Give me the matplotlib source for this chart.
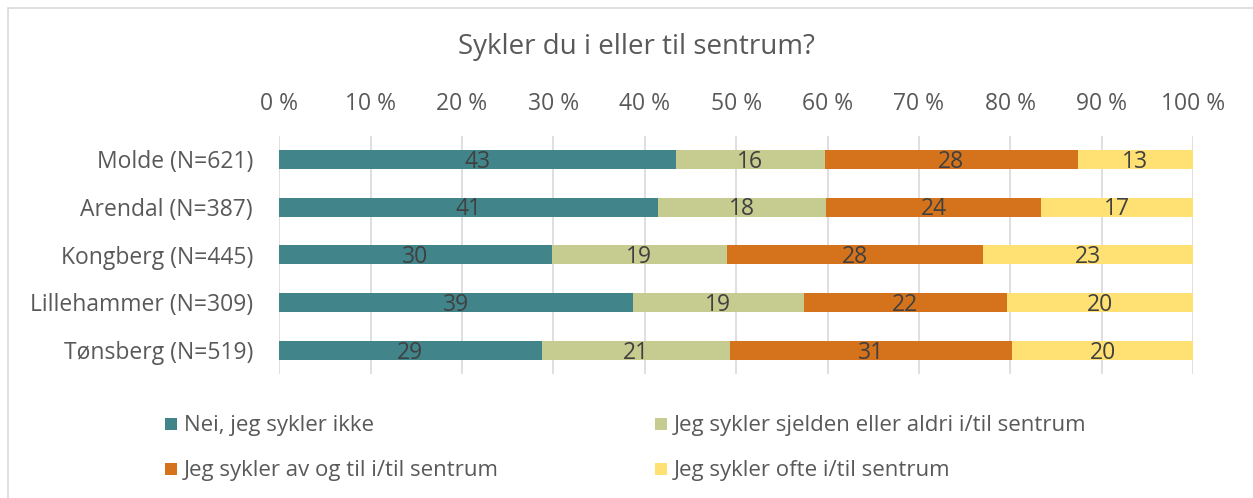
import matplotlib.pyplot as plt
from matplotlib.patches import Rectangle

plt.rcParams['font.family'] = ['Open Sans', 'DejaVu Sans']

# Survey data (percent of respondents per town)
towns = ["Molde (N=621)", "Arendal (N=387)", "Kongberg (N=445)",
         "Lillehammer (N=309)", "Tønsberg (N=519)"]
series_names = ["Nei, jeg sykler ikke",
                "Jeg sykler sjelden eller aldri i/til sentrum",
                "Jeg sykler av og til i/til sentrum",
                "Jeg sykler ofte i/til sentrum"]
nei = [43.4, 41.4, 29.8, 38.7, 28.7]
sjelden = [16.3, 18.4, 19.2, 18.7, 20.6]
av_og_til = [27.7, 23.6, 28.0, 22.2, 30.9]
ofte = [12.6, 16.6, 23.0, 20.4, 19.8]
x_ticks = [0, 10, 20, 30, 40, 50, 60, 70, 80, 90, 100]
title = "Sykler du i eller til sentrum?"

colors = ["#41858A", "#C6CC90", "#D5731C", "#FFE073"]
text_grey = "#595959"
label_grey = "#404040"

W, H = 1253, 498
fig = plt.figure(figsize=(W / 100, H / 100), dpi=100)

# Outer chart border
fig.patches.append(Rectangle((8 / W, -0.1), 1.2, (H - 8) / H + 0.1,
                             transform=fig.transFigure, fill=False,
                             edgecolor="#D9D9D9", linewidth=1.2))

left, right = 279.3, 1193.0
top, bottom = 135.5, 374.0
ax = fig.add_axes([left / W, 1 - bottom / H, (right - left) / W, (bottom - top) / H])

series = [nei, sjelden, av_og_til, ofte]
y = list(range(len(towns)))
starts = [0.0] * len(towns)
for vals, name, col in zip(series, series_names, colors):
    ax.barh(y, vals, left=starts, height=0.4, color=col, label=name, zorder=2)
    for yi, s, v in zip(y, starts, vals):
        ax.text(s + v / 2, yi + 0.05, f"{v:.0f}", ha="center", va="center",
                fontsize=16.5, color=label_grey, zorder=3)
    starts = [s + v for s, v in zip(starts, vals)]

ax.set_xlim(0, 100)
ax.set_ylim(len(towns) - 0.5, -0.5)
ax.set_xticks(x_ticks)
ax.set_xticklabels([f"{t} %" for t in x_ticks])
ax.xaxis.tick_top()
ax.tick_params(axis="x", length=0, pad=14, labelsize=16.5, labelcolor=text_grey)
ax.set_yticks(y)
ax.set_yticklabels(towns)
ax.tick_params(axis="y", length=0, pad=19, labelsize=16.5, labelcolor=text_grey)
ax.grid(axis="x", color="#D9D9D9", linewidth=1.2, zorder=0)
for sp in ax.spines.values():
    sp.set_visible(False)

fig.text(636 / W, 1 - 47 / H, title, ha="center", va="center",
         fontsize=20, color=text_grey)

# Legend laid out in two rows of two entries
legend_pos = [(165, 424), (655, 424), (165, 469), (655, 469)]
sq = 12
for (px, py), name, col in zip(legend_pos, series_names, colors):
    fig.patches.append(Rectangle((px / W, 1 - (py + sq / 2) / H), sq / W, sq / H,
                                 transform=fig.transFigure, facecolor=col,
                                 edgecolor="none"))
    fig.text((px + sq + 7) / W, 1 - (py + 1) / H, name, ha="left", va="center",
             fontsize=16, color=text_grey)

fig.savefig("out.png", dpi=100)
